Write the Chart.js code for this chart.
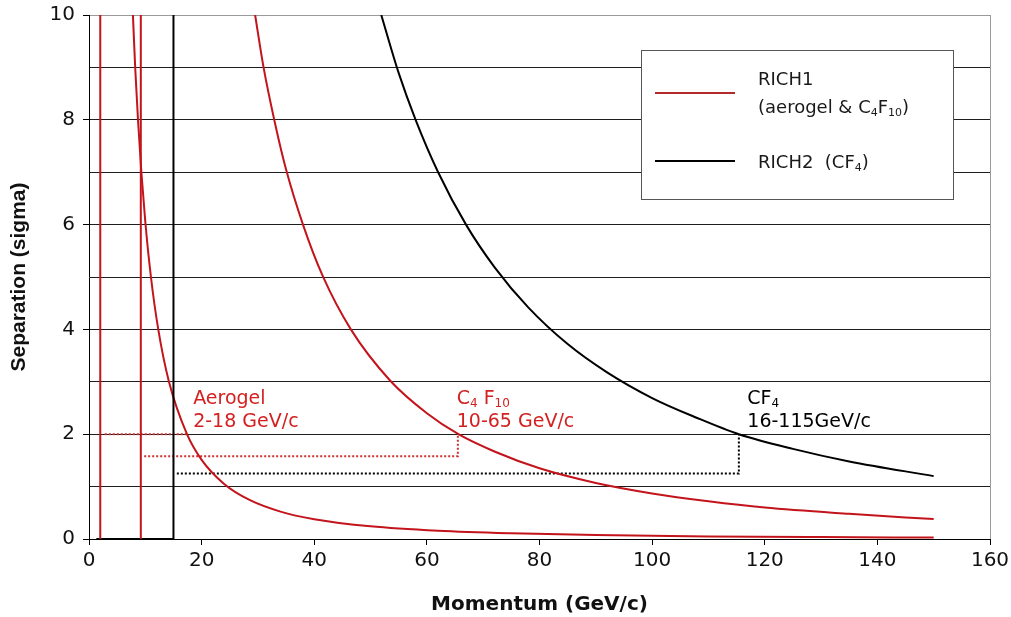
<!DOCTYPE html>
<html><head><meta charset="utf-8">
<script src="https://cdn.jsdelivr.net/npm/chart.js@4/dist/chart.umd.min.js"></script>
<style>html,body{margin:0;padding:0;background:#fff}canvas{display:block}</style>
</head><body>
<canvas id="c" width="1011" height="617"></canvas>
<script>
// ---- data ----
const xTickValues = [0, 20, 40, 60, 80, 100, 120, 140, 160];
const yTickValues = [0, 2, 4, 6, 8, 10];

const aerogelP     = [7.8, 8.2, 8.7, 9.3, 10, 11, 12.3, 14.2, 17.4, 20, 24, 28.5, 34, 40, 50, 62, 75, 90, 110, 130, 150];
const aerogelSigma = [10, 9, 8, 7, 6.05, 5, 4, 3, 2, 1.51, 1.05, 0.745, 0.523, 0.378, 0.242, 0.157, 0.108, 0.075, 0.05, 0.036, 0.027];

const c4f10P     = [29.5, 31, 33, 35, 38, 41.5, 46.5, 53.5, 60, 65.6, 72, 80, 90, 100, 110, 120, 135, 150];
const c4f10Sigma = [10, 9.0, 7.95, 7.05, 6.0, 5.02, 4.0, 3.02, 2.4, 2.0, 1.67, 1.35, 1.07, 0.87, 0.72, 0.6, 0.48, 0.38];

const cf4P     = [51.9, 55, 58, 62, 67, 72, 78, 85, 92, 100, 108, 115.4, 125, 135, 150];
const cf4Sigma = [10, 8.89, 8.0, 7.0, 5.99, 5.19, 4.42, 3.72, 3.18, 2.69, 2.31, 2.0, 1.72, 1.48, 1.2];

const rich1LowP = [2, 2];         const rich1LowSigma = [0, 10];
const rich1MidP = [9.2, 9.2];     const rich1MidSigma = [0, 10];
const rich2EdgeP = [1.3, 15, 15]; const rich2EdgeSigma = [0, 0, 10];

const aeroRangeP = [2.8, 17.4];          const aeroRangeSigma = [2, 2];
const c4RangeP   = [9.8, 65.5, 65.5];    const c4RangeSigma   = [1.58, 1.58, 2];
const cf4RangeP  = [15.6, 115.4, 115.4]; const cf4RangeSigma  = [1.25, 1.25, 2];

const legendNames = ['RICH1', '(aerogel & C4F10)', 'RICH2  (CF4)'];
const annotationTexts = [
  { p: 18.5, s: 2.58, color: '#d42020', lines: [[['Aerogel', 0]], [['2-18 GeV/c', 0]]] },
  { p: 65.3, s: 2.58, color: '#d42020', lines: [[['C', 0], ['4', 1], [' F', 0], ['10', 1]], [['10-65 GeV/c', 0]]] },
  { p: 116.9, s: 2.58, color: '#000000', lines: [[['CF', 0], ['4', 1]], [['16-115GeV/c', 0]]] }
];

// ---- helpers ----
const pts = (xs, ys) => xs.map((x, i) => ({ x: x, y: ys[i] }));
const RED = '#c3141c';
const FONT = '"DejaVu Sans", sans-serif';

function drawRuns(ctx, runs, x, y, size, color) {
  let cx = x;
  ctx.fillStyle = color;
  ctx.textBaseline = 'alphabetic';
  ctx.textAlign = 'left';
  for (const [t, sub] of runs) {
    const fs = sub ? Math.round(size * 0.62) : size;
    ctx.font = fs + 'px ' + FONT;
    ctx.fillText(t, cx, sub ? y + size * 0.16 : y);
    cx += ctx.measureText(t).width;
  }
}

const overlayPlugin = {
  id: 'overlay',
  afterDatasetsDraw(chart) {
    const ctx = chart.ctx;
    const xs = chart.scales.x, ys = chart.scales.y;
    ctx.save();
    for (const a of annotationTexts) {
      const px = xs.getPixelForValue(a.p);
      const py = ys.getPixelForValue(a.s);
      a.lines.forEach((runs, i) => drawRuns(ctx, runs, px, py + i * 23.5, 19, a.color));
    }
    const L = 641, T = 50, W = 312, H = 149;
    ctx.fillStyle = '#fff';
    ctx.fillRect(L, T, W, H);
    ctx.strokeStyle = '#555';
    ctx.lineWidth = 1;
    ctx.strokeRect(L + 0.5, T + 0.5, W, H);
    ctx.lineWidth = 2;
    ctx.strokeStyle = '#b32a2a';
    ctx.beginPath(); ctx.moveTo(655, 93); ctx.lineTo(735, 93); ctx.stroke();
    ctx.strokeStyle = '#000';
    ctx.beginPath(); ctx.moveTo(655, 161); ctx.lineTo(735, 161); ctx.stroke();
    const fs = 18, col = '#1a1a1a';
    drawRuns(ctx, [[legendNames[0], 0]], 758, 85, fs, col);
    drawRuns(ctx, [['(aerogel & C', 0], ['4', 1], ['F', 0], ['10', 1], [')', 0]], 758, 113, fs, col);
    drawRuns(ctx, [['RICH2  (CF', 0], ['4', 1], [')', 0]], 758, 168, fs, col);
    ctx.restore();
  }
};

const lineDs = (data, color, width, dash) => ({
  data: data, showLine: true, borderColor: color, backgroundColor: color,
  borderWidth: width, pointRadius: 0, borderDash: dash || [], fill: false, tension: 0
});
const curveDs = (data, color) => Object.assign(lineDs(data, color, 2), { cubicInterpolationMode: 'monotone' });

const zeroPad = s => { s.paddingTop = 0; s.paddingBottom = 0; s.paddingLeft = 0; s.paddingRight = 0; };

new Chart(document.getElementById('c'), {
  type: 'scatter',
  data: {
    datasets: [
      lineDs(pts(rich1LowP, rich1LowSigma), RED, 2),
      lineDs(pts(rich1MidP, rich1MidSigma), RED, 2),
      lineDs(pts(rich2EdgeP, rich2EdgeSigma), '#000', 2),
      curveDs(pts(aerogelP, aerogelSigma), RED),
      curveDs(pts(c4f10P, c4f10Sigma), RED),
      curveDs(pts(cf4P, cf4Sigma), '#000'),
      lineDs(pts(aeroRangeP, aeroRangeSigma), '#d03030', 2, [2, 2]),
      lineDs(pts(c4RangeP, c4RangeSigma), '#d03030', 2, [2, 2]),
      lineDs(pts(cf4RangeP, cf4RangeSigma), '#000', 2, [2, 2])
    ]
  },
  options: {
    responsive: false,
    animation: false,
    devicePixelRatio: 1,
    layout: { padding: { left: 0, right: 21, top: 15, bottom: 0 } },
    plugins: { legend: { display: false }, tooltip: { enabled: false } },
    scales: {
      x: {
        type: 'linear', min: 0, max: 160,
        afterBuildTicks: s => { s.ticks = xTickValues.map(v => ({ value: v })); },
        afterFit: s => { s.height = 78; zeroPad(s); },
        border: { color: '#000', width: 1 },
        grid: {
          color: c => (c.tick && c.tick.value === 160) ? '#9a9a9a' : 'rgba(0,0,0,0)',
          tickColor: '#000', tickLength: 6, lineWidth: 1
        },
        ticks: { color: '#111', font: { family: FONT, size: 20 }, padding: 4, maxRotation: 0 },
        title: { display: true, text: 'Momentum (GeV/c)', color: '#111',
                 font: { family: FONT, size: 20, weight: 'bold' }, padding: { top: 0, bottom: 0 } }
      },
      y: {
        type: 'linear', min: 0, max: 10,
        ticks: {
          stepSize: 1, color: '#111', font: { family: FONT, size: 20 }, padding: 8,
          callback: v => yTickValues.includes(v) ? String(v) : ''
        },
        afterFit: s => { s.width = 89; zeroPad(s); },
        border: { color: '#000', width: 1 },
        grid: {
          color: c => (c.tick && c.tick.value === 10) ? '#9a9a9a' : '#1e1e1e',
          tickColor: c => (c.tick && yTickValues.includes(c.tick.value)) ? '#000' : 'rgba(0,0,0,0)',
          tickLength: 6, lineWidth: 1
        },
        title: { display: true, text: 'Separation (sigma)', color: '#111',
                 font: { family: '"Liberation Sans", Arial, sans-serif', size: 21, weight: 'bold' },
                 padding: { top: 7, bottom: 0 } }
      }
    }
  },
  plugins: [overlayPlugin]
});
</script>
</body></html>
